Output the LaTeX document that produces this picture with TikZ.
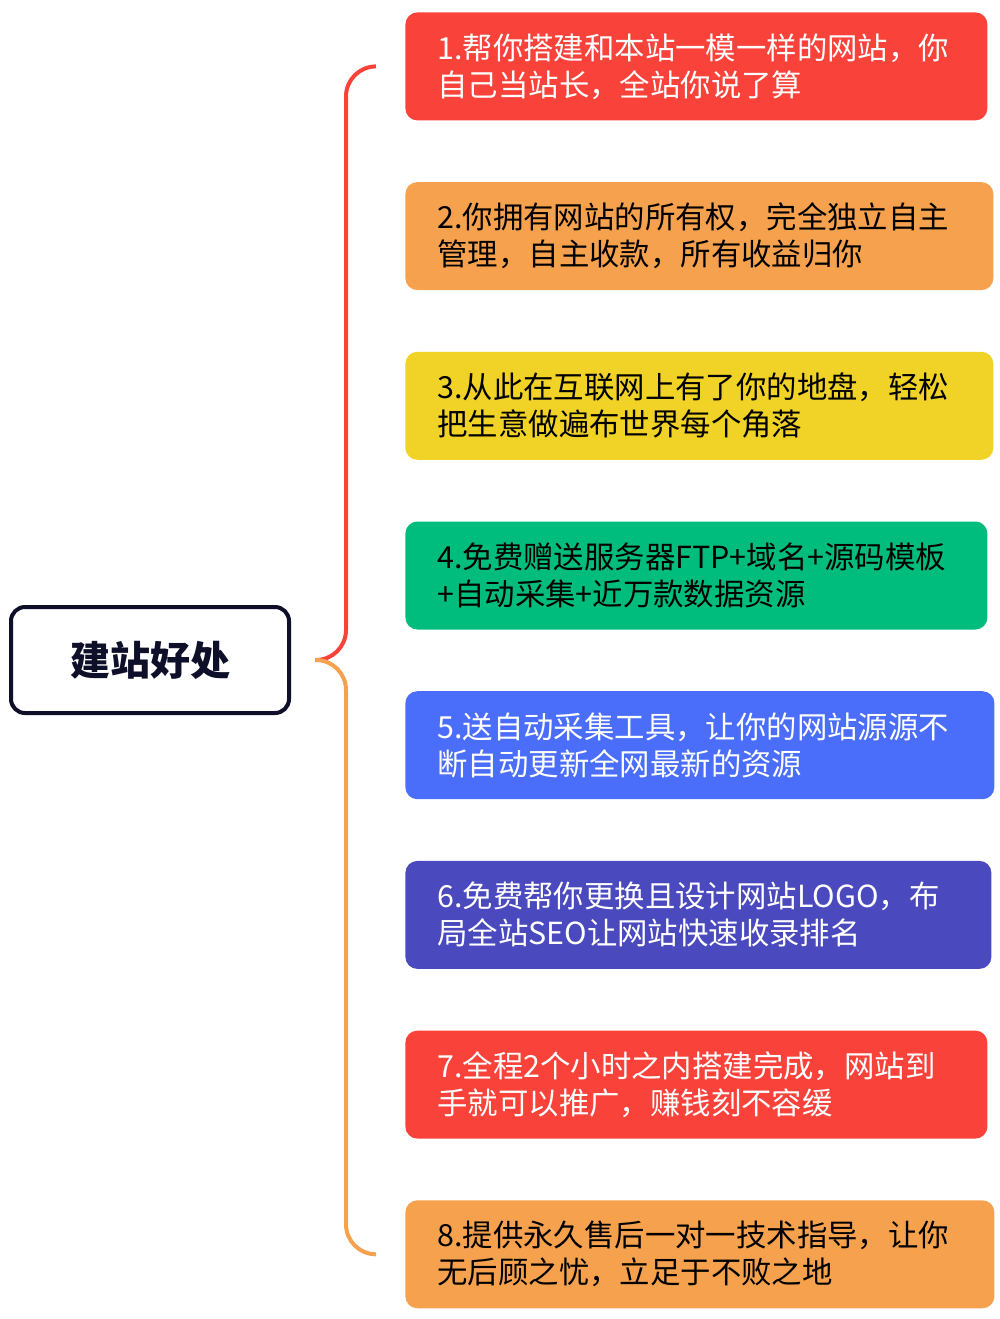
\documentclass[tikz,border=0pt]{standalone}
\usepackage{fontspec}
\newfontfamily\cjk{Noto Sans CJK SC}
\usetikzlibrary{positioning}

\begin{document}
\begin{tikzpicture}[x=0.5pt,y=-0.5pt,
  benefit/.style={rounded corners=6pt,anchor=north west,align=left,
    inner xsep=16pt,inner ysep=0pt,minimum height=54pt,
    font=\cjk\fontsize{15.2}{18.5}\selectfont},
  rootbox/.style={draw=ms_navy,line width=2pt,rounded corners=7pt,fill=white,
    minimum width=139pt,minimum height=53pt,
    font=\cjk\bfseries\fontsize{20}{24}\selectfont,text=ms_navy},
  bracket/.style={line width=2pt,rounded corners=15pt}]
% ------------------------------------------------ mind map colors
\definecolor{ms_red}{RGB}{248,66,58}      %#F8423A
\definecolor{ms_orange}{RGB}{245,161,78}  %#F5A14E
\definecolor{ms_yellow}{RGB}{241,210,38}  %#F1D226
\definecolor{ms_green}{RGB}{0,189,126}    %#00BD7E
\definecolor{ms_blue}{RGB}{74,110,250}    %#4A6EFA
\definecolor{ms_purple}{RGB}{74,74,190}   %#4A4ABE
\definecolor{ms_navy}{RGB}{14,15,40}      %#0E0F28

\useasboundingbox (0,0) rectangle (1000,1319);

% ---------------------------------------------  root
\node[rootbox] (root) at (150,660) {建站好处};

% ---------------------------------------------  benefit boxes
\foreach \i/\bg/\fg/\tw/\txt in {
  1/ms_red/white/259/{1.帮你搭建和本站一模一样的网站，你\\自己当站长，全站你说了算},
  2/ms_orange/black/262/{2.你拥有网站的所有权，完全独立自主\\管理，自主收款，所有收益归你},
  3/ms_yellow/black/262/{3.从此在互联网上有了你的地盘，轻松\\把生意做遍布世界每个角落},
  4/ms_green/black/259/{4.免费赠送服务器FTP+域名+源码模板\\+自动采集+近万款数据资源},
  5/ms_blue/white/262.5/{5.送自动采集工具，让你的网站源源不\\断自动更新全网最新的资源},
  6/ms_purple/white/261/{6.免费帮你更换且设计网站LOGO，布\\局全站SEO让网站快速收录排名},
  7/ms_red/white/259/{7.全程2个小时之内搭建完成，网站到\\手就可以推广，赚钱刻不容缓},
  8/ms_orange/black/262.5/{8.提供永久售后一对一技术指导，让你\\无后顾之忧，立足于不败之地}}
  \node[benefit,fill=\bg,text=\fg,text width=\tw pt] (b\i) at (405,{12+(\i-1)*169.7}) {\txt};

% ---------------------------------------------  bracket
\coordinate[right=12pt of root.east] (fork);
\coordinate[left=14.5pt of b1.west] (topend);
\coordinate[left=14.5pt of b8.west] (botend);

\draw[bracket,ms_red] (fork) -- ++(31,0) |- (topend);
\draw[bracket,ms_orange] (fork) -- ++(31,0) |- (botend);

\end{tikzpicture}
\end{document}
